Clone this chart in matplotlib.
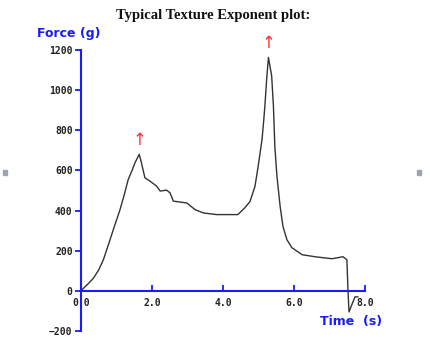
import matplotlib
matplotlib.use("Agg")
import matplotlib.pyplot as plt
from matplotlib.patches import Rectangle

# force / time trace of the texture test
time_s = [0.0, 0.07, 0.20, 0.35, 0.50, 0.63, 0.80, 0.91, 1.10, 1.22, 1.33, 1.45,
          1.52, 1.64, 1.70, 1.80, 1.94, 2.13, 2.23, 2.41, 2.51, 2.60, 2.98, 3.21,
          3.45, 3.82, 4.20, 4.42, 4.62, 4.76, 4.90, 4.99, 5.10, 5.15, 5.18, 5.23,
          5.28, 5.37, 5.42, 5.46, 5.52, 5.61, 5.69, 5.80, 5.94, 6.23, 6.59, 7.07,
          7.38, 7.49, 7.52, 7.55, 7.66, 7.72, 7.80]
force_g = [0, 13, 35, 63, 105, 155, 245, 305, 405, 480, 555, 605,
           638, 680, 640, 563, 547, 522, 497, 502, 488, 447, 438, 405,
           388, 380, 380, 380, 415, 445, 520, 620, 755, 855, 922, 1055,
           1163, 1072, 922, 720, 570, 420, 320, 255, 215, 180, 170, 160,
           170, 155, 5, -105, -55, -30, -30]

# peaks marked with arrows
peak_t = [1.64, 5.28]
peak_f = [680, 1163]

x_ticks = [0.0, 2.0, 4.0, 6.0, 8.0]
y_ticks = [-200, 0, 200, 400, 600, 800, 1000, 1200]

blue = "#1a1aff"

fig = plt.figure(figsize=(4.3, 3.4), dpi=100)
ax = fig.add_axes([81 / 430, 1 - 331 / 340, 284 / 430, 281 / 340])

ax.plot(time_s, force_g, color="#333333", lw=1.0)
ax.plot([0], [0], marker="+", color="magenta", ms=6, mew=1.2)

for t, f in zip(peak_t, peak_f):
    ax.text(t, f + 25, "\u2191", color="#ff3030", fontsize=12, ha="center",
            va="bottom", family="DejaVu Sans")

ax.set_xlim(0, 8.0)
ax.set_ylim(-200, 1200)
for s in ["top", "right"]:
    ax.spines[s].set_visible(False)
ax.spines["left"].set_position(("data", 0))
ax.spines["bottom"].set_position(("data", 0))
ax.spines["left"].set_color(blue)
ax.spines["bottom"].set_color(blue)
ax.spines["left"].set_linewidth(1.5)
ax.spines["bottom"].set_linewidth(1.5)

ax.set_xticks(x_ticks)
ax.set_xticklabels(["%.1f" % v for v in x_ticks])
ax.set_yticks(y_ticks)
ax.tick_params(axis="x", direction="in", length=4, width=1.3, color=blue,
               labelsize=7, pad=5)
ax.tick_params(axis="y", direction="out", length=4, width=1.3, color=blue,
               labelsize=7, pad=2)
for lab in ax.get_xticklabels() + ax.get_yticklabels():
    lab.set_family("DejaVu Sans Mono")
    lab.set_fontweight("bold")
    lab.set_color("#222222")

fig.text(213 / 430, 1 - 15 / 340, "Typical Texture Exponent plot:",
         ha="center", va="center", fontsize=10.5, fontweight="bold",
         family="Liberation Serif", color="#111111")
fig.text(37 / 430, 1 - 33 / 340, "Force (g)", ha="left", va="center",
         fontsize=9, fontweight="bold", color=blue, family="DejaVu Sans")
fig.text(320 / 430, 1 - 322 / 340, "Time  (s)", ha="left", va="center",
         fontsize=9, fontweight="bold", color=blue, family="DejaVu Sans")

# small grey markers at the sides
for x0 in [3, 417]:
    fig.patches.append(Rectangle((x0 / 430, 1 - 175 / 340), 4 / 430, 5 / 340,
                                 transform=fig.transFigure, color="#a0a4b0"))

fig.savefig("out.png", dpi=100)
